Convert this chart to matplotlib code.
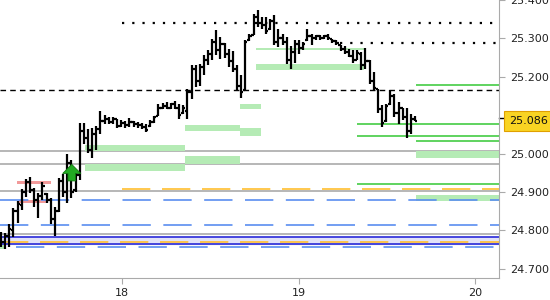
import numpy as np
import matplotlib
matplotlib.use('Agg')
import matplotlib.pyplot as plt
from matplotlib.transforms import blended_transform_factory

# barras OHLC (tempo em dias)
t_start = 17.316
t_step = 0.02343
abre = [24.790, 24.770, 24.785, 24.800, 24.850, 24.865, 24.900, 24.925, 24.905, 24.880,
        24.890, 24.895, 24.880, 24.830, 24.850, 24.930, 24.900, 24.975, 24.905, 24.945,
        25.060, 25.040, 25.010, 25.050, 25.065, 25.085, 25.090, 25.082, 25.090, 25.072,
        25.080, 25.075, 25.082, 25.078, 25.075, 25.070, 25.072, 25.082, 25.097, 25.120,
        25.125, 25.120, 25.128, 25.120, 25.105, 25.110, 25.160, 25.220, 25.190, 25.225,
        25.245, 25.260, 25.290, 25.270, 25.285, 25.260, 25.240, 25.220, 25.175, 25.165,
        25.295, 25.310, 25.355, 25.340, 25.335, 25.325, 25.345, 25.290, 25.300, 25.290,
        25.245, 25.265, 25.285, 25.275, 25.295, 25.305, 25.300, 25.305, 25.302, 25.305,
        25.298, 25.292, 25.284, 25.272, 25.265, 25.255, 25.245, 25.260, 25.230, 25.240,
        25.190, 25.168, 25.115, 25.085, 25.128, 25.150, 25.105, 25.118, 25.095, 25.060,
        25.090]
maxima = [24.797, 24.793, 24.817, 24.858, 24.877, 24.907, 24.933, 24.938, 24.910, 24.897,
          24.925, 24.898, 24.884, 24.862, 24.936, 24.947, 24.999, 24.983, 24.957, 25.081,
          25.079, 25.064, 25.066, 25.071, 25.111, 25.100, 25.096, 25.096, 25.091, 25.087,
          25.085, 25.093, 25.085, 25.083, 25.080, 25.077, 25.087, 25.097, 25.130, 25.133,
          25.134, 25.133, 25.137, 25.130, 25.126, 25.169, 25.230, 25.232, 25.234, 25.258,
          25.271, 25.299, 25.321, 25.303, 25.289, 25.273, 25.267, 25.230, 25.204, 25.297,
          25.312, 25.364, 25.375, 25.355, 25.355, 25.351, 25.360, 25.325, 25.312, 25.303,
          25.279, 25.297, 25.295, 25.290, 25.325, 25.312, 25.310, 25.310, 25.308, 25.312,
          25.299, 25.295, 25.284, 25.279, 25.273, 25.269, 25.269, 25.264, 25.276, 25.243,
          25.213, 25.169, 25.126, 25.130, 25.165, 25.155, 25.135, 25.120, 25.120, 25.104,
          25.097]
minimas = [24.758, 24.752, 24.758, 24.784, 24.819, 24.853, 24.888, 24.898, 24.862, 24.832,
           24.879, 24.871, 24.817, 24.786, 24.849, 24.888, 24.871, 24.884, 24.901, 24.931,
           25.026, 25.001, 24.988, 25.009, 25.052, 25.078, 25.077, 25.078, 25.068, 25.070,
           25.068, 25.070, 25.070, 25.068, 25.065, 25.057, 25.070, 25.080, 25.097, 25.115,
           25.115, 25.117, 25.115, 25.091, 25.104, 25.091, 25.141, 25.174, 25.175, 25.206,
           25.232, 25.245, 25.256, 25.247, 25.250, 25.225, 25.212, 25.163, 25.146, 25.165,
           25.293, 25.308, 25.329, 25.325, 25.312, 25.321, 25.282, 25.277, 25.282, 25.234,
           25.221, 25.236, 25.260, 25.271, 25.293, 25.282, 25.295, 25.297, 25.299, 25.297,
           25.288, 25.284, 25.267, 25.260, 25.251, 25.236, 25.243, 25.219, 25.221, 25.182,
           25.165, 25.106, 25.070, 25.083, 25.126, 25.096, 25.077, 25.087, 25.042, 25.052,
           25.085]
fecha = [24.770, 24.785, 24.805, 24.850, 24.870, 24.900, 24.925, 24.905, 24.880, 24.890,
         24.915, 24.880, 24.830, 24.850, 24.930, 24.900, 24.975, 24.900, 24.945, 25.060,
         25.040, 25.010, 25.050, 25.065, 25.085, 25.090, 25.082, 25.090, 25.072, 25.080,
         25.075, 25.082, 25.078, 25.075, 25.070, 25.062, 25.082, 25.095, 25.120, 25.125,
         25.120, 25.128, 25.120, 25.100, 25.118, 25.160, 25.220, 25.190, 25.225, 25.245,
         25.260, 25.290, 25.270, 25.285, 25.260, 25.240, 25.220, 25.175, 25.160, 25.290,
         25.305, 25.355, 25.340, 25.335, 25.320, 25.345, 25.290, 25.300, 25.290, 25.245,
         25.265, 25.285, 25.275, 25.285, 25.305, 25.300, 25.305, 25.302, 25.305, 25.300,
         25.292, 25.288, 25.272, 25.265, 25.255, 25.245, 25.262, 25.230, 25.240, 25.190,
         25.170, 25.115, 25.080, 25.125, 25.150, 25.105, 25.120, 25.095, 25.060, 25.090,
         25.086]
preco_atual = 25.086

# niveis horizontais: (preco, inicio)
linhas_cinza = [25.007, 24.972, 24.904, 24.790]
linhas_azul_escuro = [24.782, 24.764]
linhas_laranja = [(24.909, 18.0), (24.769, 17.31)]
linhas_azul_trac = [(24.878, 17.31), (24.8135, 17.31), (24.756, 17.40)]
linha_preta_trac = 25.1667
linhas_pontilhadas = [(25.3398, 18.0), (25.2878, 19.234)]
linhas_verdes = [(25.180, 19.664), (25.076, 19.33), (25.047, 19.33), (25.034, 19.664), (24.921, 19.33)]
# zonas: (inicio, fim, baixo, alto)
zonas_verdes = [(17.791, 18.357, 24.955, 24.972), (18.357, 18.668, 24.972, 24.9935),
                (17.791, 18.357, 25.008, 25.022), (18.357, 18.668, 25.058, 25.074),
                (18.668, 18.787, 25.116, 25.128), (18.668, 18.787, 25.045, 25.066),
                (18.759, 19.37, 25.217, 25.2325), (18.759, 19.37, 25.269, 25.274),
                (19.664, 20.134, 24.988, 25.0073), (19.664, 20.134, 24.8774, 24.892),
                (17.31, 17.338, 24.752, 24.763)]
zonas_vermelhas = [(17.406, 17.599, 24.921, 24.928), (17.418, 17.570, 24.872, 24.878)]
seta_tempo = 17.716
seta_base, seta_topo = 24.929, 24.972

y_ticks = [24.7, 24.8, 24.9, 25.0, 25.2, 25.3, 25.4]
y_labels = ["24.700", "24.800", "24.900", "25.000", "25.200", "25.300", "25.400"]
x_ticks = [18, 19, 20]
x_labels = ["18", "19", "20"]

x_min, x_max = 17.31, 20.134
y_min, y_max = 24.677, 25.3987

fig = plt.figure(figsize=(5.5, 3), dpi=100)
ax = fig.add_axes([0, 1 - 277.7 / 300, 499 / 550, 277.7 / 300])
ax.set_xlim(x_min, x_max)
ax.set_ylim(y_min, y_max)

cinza = "#aaaaaa"
ax.axhspan(linhas_azul_escuro[1], linhas_azul_escuro[0], color="#e2e2f8", zorder=0)
for y in linhas_cinza:
    ax.axhline(y, color=cinza, lw=1.2, zorder=1)
for y in linhas_azul_escuro:
    ax.axhline(y, color="#2a2ad8", lw=1.2, zorder=2)
for y, x0 in linhas_laranja:
    ax.hlines(y, x0, x_max, color="#ffbf30", lw=1.2, linestyle=(0, (17, 7)), zorder=2)
for y, x0 in linhas_azul_trac:
    ax.hlines(y, x0, x_max, color="#5a8ef0", lw=1.2, linestyle=(0, (17, 7.5)), zorder=2)
ax.axhline(linha_preta_trac, color="black", lw=1, linestyle=(0, (4, 3)), zorder=2)
for y, x0 in linhas_pontilhadas:
    ax.hlines(y, x0, x_max, color="black", lw=1.6, linestyle=(0, (1, 3.6)), zorder=2)
for y, x0 in linhas_verdes:
    ax.hlines(y, x0, x_max, color="#44cc44", lw=1.2, zorder=2)
for x0, x1, b, a in zonas_verdes:
    ax.fill_between([x0, x1], b, a, color="#b5ebb5", lw=0, zorder=1)
for x0, x1, b, a in zonas_vermelhas:
    ax.fill_between([x0, x1], b, a, color="#f29a9a", lw=0, zorder=1)

# barras
t = t_start + t_step * np.arange(len(abre))
tick = 0.012
ax.vlines(t, minimas, maxima, color="black", lw=1.6, zorder=4)
ax.hlines(abre, t - tick, t, color="black", lw=1.6, zorder=4)
ax.hlines(fecha, t, t + tick, color="black", lw=1.6, zorder=4)

# seta de sinal
ax.annotate("", xy=(seta_tempo, seta_topo), xytext=(seta_tempo, seta_base),
            arrowprops=dict(arrowstyle="simple,head_length=0.5,head_width=1.0,tail_width=0.42",
                            mutation_scale=13, fc="#22aa22", ec="#117711", lw=0.6,
                            shrinkA=0, shrinkB=0),
            zorder=5)

# eixos
for s in ["top", "left"]:
    ax.spines[s].set_visible(False)
for s in ["right", "bottom"]:
    ax.spines[s].set_color(cinza)
ax.yaxis.tick_right()
ax.set_yticks(y_ticks)
ax.set_yticklabels(y_labels)
ax.set_xticks(x_ticks)
ax.set_xticklabels(x_labels)
ax.tick_params(colors=cinza, labelcolor="#222222", labelsize=8, length=4)
ax.tick_params(axis="y", pad=4)

# etiqueta do preco atual
trans = blended_transform_factory(ax.transAxes, ax.transData)
ax.text(1.0195, preco_atual, f"{preco_atual:.3f}", transform=trans, fontsize=8,
        color="#111111", va="center", ha="left", zorder=6,
        bbox=dict(boxstyle="square,pad=0.45", fc="#f9d423", ec="#e0a000", lw=0.8))
ax.plot([1.0, 1.01], [preco_atual + 0.008] * 2, transform=trans, color="black",
        lw=1, clip_on=False)

fig.savefig("out.png", dpi=100)
